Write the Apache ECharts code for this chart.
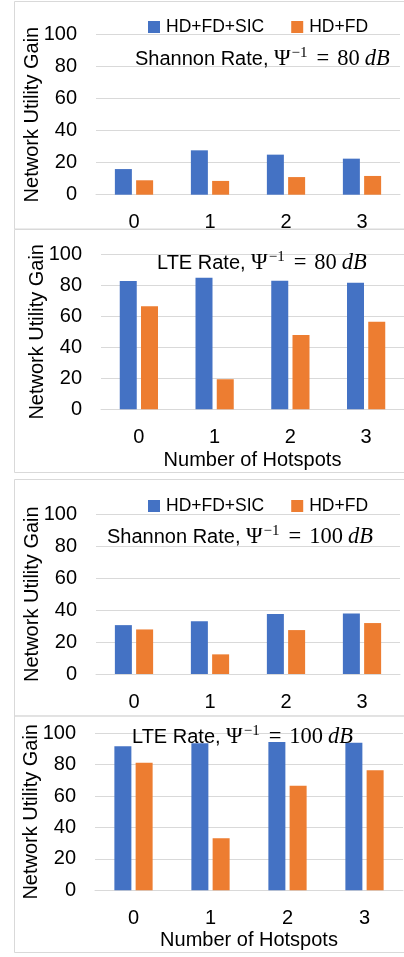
<!DOCTYPE html>
<html>
<head>
<meta charset="utf-8">
<script src="https://cdn.jsdelivr.net/npm/echarts@6/dist/echarts.min.js"></script>
<style>
  html, body { margin: 0; padding: 0; background: #fff; }
  #chart { width: 404px; height: 957px; }
</style>
</head>
<body>
<div id="chart"></div>
<script>
// ---- data ----
const categories = ['0', '1', '2', '3'];
const seriesNames = ['HD+FD+SIC', 'HD+FD'];
const yTicks = { min: 0, max: 100, interval: 20 };

const shannon80Sic = [16, 27.7, 25, 22.5];
const shannon80Fd  = [9, 8.6, 11, 11.7];
const lte80Sic     = [82.8, 84.9, 83, 81.7];
const lte80Fd      = [66.5, 19.4, 48, 56.5];
const shannon100Sic = [30.6, 33.1, 37.5, 37.9];
const shannon100Fd  = [27.9, 12.3, 27.5, 31.9];
const lte100Sic     = [91.7, 93.6, 94.5, 94.0];
const lte100Fd      = [81.3, 33.1, 66.6, 76.4];

const panelLabels = [
  { rate: 'Shannon Rate, ', db: '80' },
  { rate: 'LTE Rate, ', db: '80' },
  { rate: 'Shannon Rate, ', db: '100' },
  { rate: 'LTE Rate, ', db: '100' }
];
const yAxisTitle = 'Network Utility Gain';
const xAxisTitle = 'Number of Hotspots';

// ---- styling / layout ----
const BLUE = '#4472C4', ORANGE = '#ED7D31', GRID = '#d9d9d9', TEXT = '#000';
const SANS = 'Liberation Sans';
const SERIF = 'Liberation Serif';
const FS = 20;

const grids = [
  { left: 96,  width: 304, top: 34.5,  height: 160.2 },
  { left: 101, width: 303, top: 254.3, height: 155 },
  { left: 96,  width: 304, top: 514.3, height: 159.7 },
  { left: 95,  width: 308, top: 733.3, height: 157 }
];
const titlePos = [
  { left: 130, top: 41 },
  { left: 152, top: 245 },
  { left: 102, top: 519 },
  { left: 127, top: 719 }
];
const panelData = [
  [shannon80Sic, shannon80Fd],
  [lte80Sic, lte80Fd],
  [shannon100Sic, shannon100Fd],
  [lte100Sic, lte100Fd]
];
const hasXName = [false, true, false, true];

const xAxes = grids.map((g, i) => ({
  type: 'category',
  gridIndex: i,
  data: categories,
  axisLine: { show: true, lineStyle: { color: GRID, width: 1 } },
  axisTick: { show: false },
  axisLabel: { color: TEXT, fontFamily: SANS, fontSize: FS, margin: 18 },
  name: hasXName[i] ? xAxisTitle : '',
  nameLocation: 'middle',
  nameGap: i === 1 ? 41 : 40,
  nameTextStyle: { color: TEXT, fontFamily: SANS, fontSize: FS }
}));
const yAxes = grids.map((g, i) => ({
  type: 'value',
  gridIndex: i,
  min: yTicks.min, max: yTicks.max, interval: yTicks.interval,
  axisLine: { show: false },
  axisTick: { show: false },
  splitLine: { show: true, lineStyle: { color: GRID, width: 1 } },
  axisLabel: { color: TEXT, fontFamily: SANS, fontSize: FS, margin: 19 },
  name: yAxisTitle,
  nameLocation: 'middle',
  nameGap: 54,
  nameMoveOverlap: false,
  nameTextStyle: { color: TEXT, fontFamily: SANS, fontSize: FS }
}));

const series = [];
panelData.forEach((pair, i) => {
  pair.forEach((vals, k) => {
    series.push({
      type: 'bar',
      name: seriesNames[k],
      xAxisIndex: i, yAxisIndex: i,
      data: vals,
      barWidth: 17,
      barGap: '25%',
      itemStyle: { color: k === 0 ? BLUE : ORANGE },
      emphasis: { disabled: true }
    });
  });
});

const titles = panelLabels.map((p, i) => ({
  left: titlePos[i].left,
  top: titlePos[i].top,
  text: '{a|' + p.rate + '}{m|Ψ}{s|−1}{e|=}{m|' + p.db + '}{i|dB}',
  textStyle: {
    fontWeight: 'normal',
    rich: {
      a: { fontFamily: SANS, fontSize: 20, fontWeight: 'normal', color: TEXT },
      m: { fontFamily: SERIF, fontSize: 22.5, fontWeight: 'normal', color: TEXT },
      s: { fontFamily: SERIF, fontSize: 15, fontWeight: 'normal', color: TEXT, padding: [0, 0, 12, 1] },
      e: { fontFamily: SERIF, fontSize: 22.5, fontWeight: 'normal', color: TEXT, padding: [0, 8, 0, 9] },
      i: { fontFamily: SERIF, fontSize: 22.5, fontWeight: 'normal', fontStyle: 'italic', color: TEXT, padding: [0, 0, 0, 5] }
    }
  }
}));

const legendCommon = {
  data: seriesNames,
  icon: 'rect',
  itemWidth: 12, itemHeight: 12,
  itemGap: 27,
  selectedMode: false,
  textStyle: { color: TEXT, fontFamily: SANS, fontSize: 17.5, padding: [0, 0, 0, 1] }
};

const frames = [
  { y: 1.5, h: 227.5 },
  { y: 229.5, h: 243 },
  { y: 479.5, h: 236.5 },
  { y: 716, h: 236.5 }
].map(f => ({
  type: 'rect',
  silent: true,
  shape: { x: 14.5, y: f.y, width: 420, height: f.h },
  style: { fill: 'none', stroke: GRID, lineWidth: 1 }
}));

const chart = echarts.init(document.getElementById('chart'), null, { renderer: 'canvas' });
chart.setOption({
  animation: false,
  backgroundColor: '#fff',
  graphic: frames,
  title: titles,
  legend: [
    Object.assign({ left: 143, top: 13 }, legendCommon),
    Object.assign({ left: 143, top: 492 }, legendCommon)
  ],
  grid: grids,
  xAxis: xAxes,
  yAxis: yAxes,
  series: series
});
</script>
</body>
</html>
